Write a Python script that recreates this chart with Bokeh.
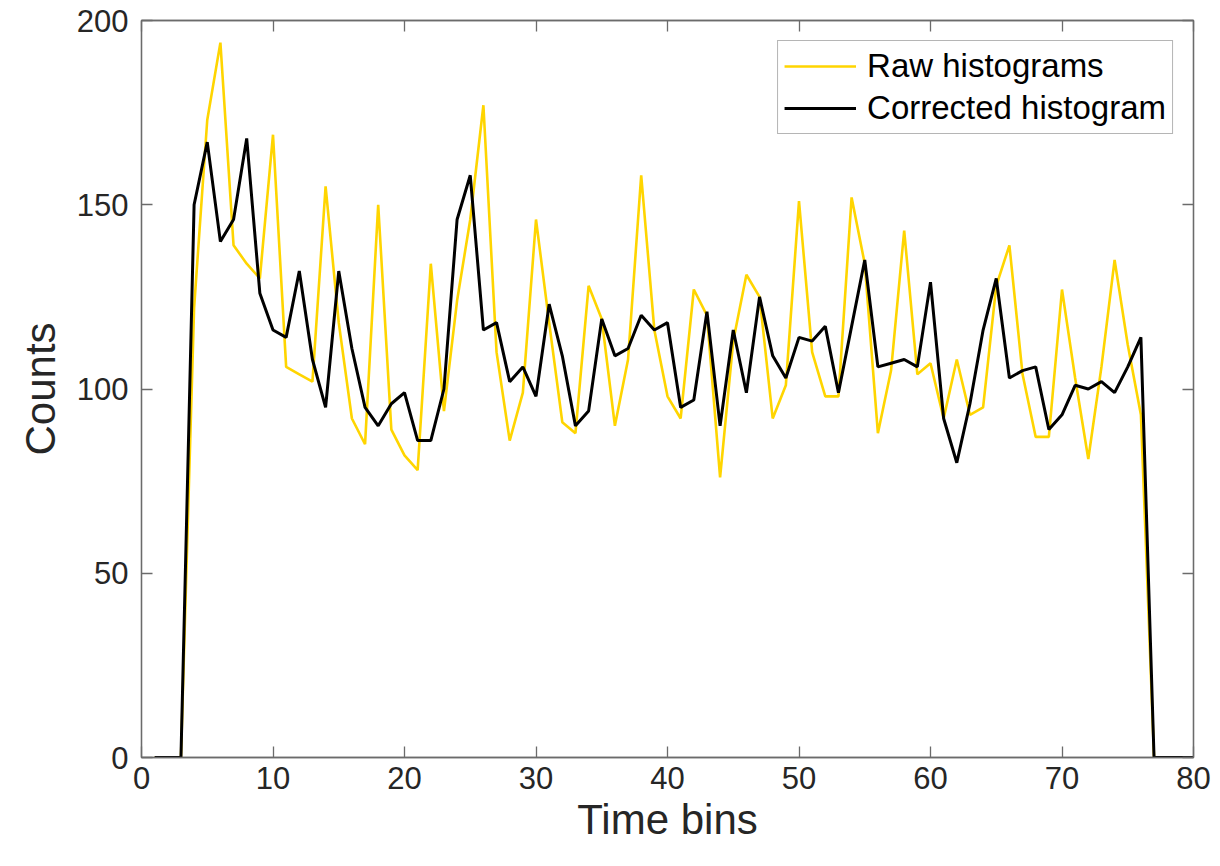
from bokeh.plotting import figure
from bokeh.models import LinearAxis, Range1d, FixedTicker, Legend, LegendItem, ColumnDataSource
from bokeh.embed import file_html
from bokeh.resources import INLINE

# ---- data ----
time_bins = list(range(1, 81))
raw_counts = [0, 0, 0, 122, 173, 194, 139, 134, 130, 169,
              106, 104, 102, 155, 118, 92, 85, 150, 89, 82,
              78, 134, 94, 124, 146, 177, 110, 86, 99, 146,
              118, 91, 88, 128, 119, 90, 108, 158, 116, 98,
              92, 127, 120, 76, 113, 131, 125, 92, 101, 151,
              110, 98, 98, 152, 134, 88, 105, 143, 104, 107,
              92, 108, 93, 95, 128, 139, 104, 87, 87, 127,
              103, 81, 106, 135, 112, 93, 0, 0, 0, 0]
corrected_counts = [0, 0, 0, 150, 167, 140, 146, 168, 126, 116,
                    114, 132, 108, 95, 132, 111, 95, 90, 96, 99,
                    86, 86, 100, 146, 158, 116, 118, 102, 106, 98,
                    123, 109, 90, 94, 119, 109, 111, 120, 116, 118,
                    95, 97, 121, 90, 116, 99, 125, 109, 103, 114,
                    113, 117, 99, 117, 135, 106, 107, 108, 106, 129,
                    92, 80, 96, 116, 130, 103, 105, 106, 89, 93,
                    101, 100, 102, 99, 106, 114, 0, 0, 0, 0]
x_ticks = [0, 10, 20, 30, 40, 50, 60, 70, 80]
y_ticks = [0, 50, 100, 150, 200]
raw_label = "Raw histograms"
corr_label = "Corrected histogram"
x_title = "Time bins"
y_title = "Counts"

FONT = "Liberation Sans"
AXIS_COL = "#6b6b6b"

src = ColumnDataSource(dict(x=time_bins, raw=raw_counts, corr=corrected_counts))

p = figure(width=1220, height=866, output_backend="svg", toolbar_location=None,
           x_range=Range1d(0, 80), y_range=Range1d(0, 200),
           min_border_left=141, min_border_right=27, min_border_top=20, min_border_bottom=109,
           x_axis_label=x_title, y_axis_label=y_title)
p.grid.visible = False
p.outline_line_color = AXIS_COL
p.outline_line_width = 1.3
p.background_fill_color = "white"
p.border_fill_color = "white"

r_raw = p.line("x", "raw", source=src, line_color="#FFD500", line_width=2.6)
r_corr = p.line("x", "corr", source=src, line_color="#000000", line_width=3.0)

def style_axis(ax, ticks, show_labels=True):
    ax.ticker = FixedTicker(ticks=ticks)
    ax.major_tick_in = 11
    ax.major_tick_out = 0
    ax.minor_tick_in = 0
    ax.minor_tick_out = 0
    ax.axis_line_color = AXIS_COL
    ax.axis_line_width = 1.3
    ax.major_tick_line_color = AXIS_COL
    ax.major_tick_line_width = 1.3
    ax.major_label_text_font = FONT
    ax.major_label_text_color = "#262626"
    if show_labels:
        ax.major_label_text_font_size = "31px"
    else:
        ax.major_label_text_font_size = "0px"
        ax.major_label_standoff = 0

style_axis(p.xaxis[0], x_ticks)
style_axis(p.yaxis[0], y_ticks)
p.xaxis[0].major_label_standoff = 9
p.yaxis[0].major_label_standoff = 13
for ax in (p.xaxis[0], p.yaxis[0]):
    ax.axis_label_text_font = FONT
    ax.axis_label_text_font_size = "42px"
    ax.axis_label_text_font_style = "normal"
    ax.axis_label_text_color = "#262626"
p.xaxis[0].axis_label_standoff = 4
p.yaxis[0].axis_label_standoff = 10

top_ax = LinearAxis()
style_axis(top_ax, x_ticks, show_labels=False)
p.add_layout(top_ax, "above")
right_ax = LinearAxis()
style_axis(right_ax, y_ticks, show_labels=False)
p.add_layout(right_ax, "right")

legend = Legend(items=[LegendItem(label=raw_label, renderers=[r_raw]),
                       LegendItem(label=corr_label, renderers=[r_corr])],
                location="top_right")
legend.label_text_font = FONT
legend.label_text_font_size = "33px"
legend.label_text_color = "#000000"
legend.border_line_color = AXIS_COL
legend.border_line_width = 1.3
legend.glyph_width = 72
legend.glyph_height = 30
legend.label_height = 30
legend.label_standoff = 11
legend.spacing = 4
legend.padding = 6
legend.margin = 20
legend.background_fill_color = "white"
p.add_layout(legend, "center")

open("out.html", "w").write(file_html(p, INLINE))
